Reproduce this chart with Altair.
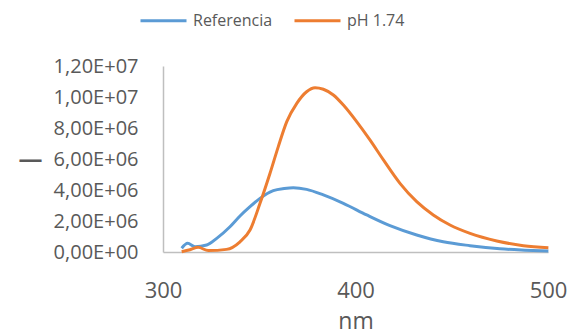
import altair as alt
import pandas as pd

series_names = ["Referencia", "pH 1.74"]
colors = ["#5B9BD5", "#ED7D31"]

ref_nm = [309.7, 312.8, 316.6, 322.7, 327.9, 334.8, 340.0, 345.2, 350.4, 357.3, 363.0, 367.7,
          374.6, 383.3, 393.7, 405.8, 417.9, 431.8, 445.6, 459.5, 475.0, 488.0, 500.2]
ref_val = [0.24e6, 0.56e6, 0.34e6, 0.45e6, 0.88e6, 1.63e6, 2.32e6, 2.92e6, 3.46e6, 3.96e6, 4.10e6, 4.15e6,
           4.04e6, 3.68e6, 3.14e6, 2.39e6, 1.70e6, 1.10e6, 0.66e6, 0.41e6, 0.21e6, 0.12e6, 0.06e6]

ph_nm = [309.7, 314.0, 318.3, 323.5, 333.0, 340.0, 345.2, 350.4, 355.6, 359.9, 364.3, 369.5,
         374.6, 379.0, 383.3, 388.5, 393.7, 400.6, 407.5, 414.5, 423.1, 431.8, 440.4, 449.1,
         459.5, 473.4, 487.2, 500.2]
ph_val = [0.02e6, 0.15e6, 0.30e6, 0.09e6, 0.17e6, 0.66e6, 1.42e6, 3.14e6, 5.08e6, 6.80e6, 8.41e6, 9.59e6,
          10.34e6, 10.60e6, 10.50e6, 10.13e6, 9.48e6, 8.41e6, 7.23e6, 5.94e6, 4.43e6, 3.25e6, 2.39e6, 1.74e6,
          1.20e6, 0.71e6, 0.41e6, 0.28e6]

x_ticks = [300, 400, 500]
y_ticks = [0, 2e6, 4e6, 6e6, 8e6, 10e6, 12e6]
y_labels = ["0,00E+00", "2,00E+06", "4,00E+06", "6,00E+06", "8,00E+06", "1,00E+07", "1,20E+07"]

df = pd.concat([
    pd.DataFrame({"nm": ref_nm, "val": ref_val, "serie": series_names[0], "o": 0}),
    pd.DataFrame({"nm": ph_nm, "val": ph_val, "serie": series_names[1], "o": 1}),
])

label_expr = "[" + ",".join("'" + s + "'" for s in y_labels) + "][round(datum.value/2000000)]"

font = "Open Sans"
grey = "#595959"

chart = alt.Chart(df).mark_line(strokeWidth=3, interpolate="monotone").encode(
    x=alt.X("nm:Q", scale=alt.Scale(domain=[300, 500], nice=False, zero=False),
            axis=alt.Axis(values=x_ticks, title="nm", grid=False, ticks=False, labelFlush=False,
                          domainColor="#BFBFBF", domainWidth=1.5,
                          labelFont=font, labelFontSize=22, labelColor=grey,
                          labelBaseline="alphabetic", labelPadding=45,
                          titleFont=font, titleFontSize=23, titleColor=grey,
                          titleFontWeight="normal", titleBaseline="alphabetic",
                          titleY=76)),
    y=alt.Y("val:Q", scale=alt.Scale(domain=[0, 1.2e7], nice=False),
            axis=alt.Axis(values=y_ticks, labelExpr=label_expr, title="—", grid=False, ticks=False,
                          domainColor="#BFBFBF", domainWidth=1.5,
                          labelFont=font, labelFontSize=20, labelColor=grey, labelPadding=25,
                          titleFont=font, titleFontSize=24, titleColor=grey, titleFontWeight="bold",
                          titleAngle=0, titleAlign="center", titleBaseline="middle",
                          titleX=-133, titleY=93)),
    color=alt.Color("serie:N", scale=alt.Scale(domain=series_names, range=colors),
                    legend=alt.Legend(title=None, orient="none", direction="horizontal",
                                      legendX=-11, legendY=-57,
                                      symbolType="M-2.3,0H2.3", symbolSize=400, symbolStrokeWidth=3,
                                      labelFont=font, labelFontSize=16, labelColor=grey,
                                      labelOffset=18, columnPadding=15, padding=0)),
    order=alt.Order("o:Q"),
).properties(
    width=385, height=186,
    autosize=alt.AutoSizeParams(type="none"),
    padding={"left": 155, "top": 58, "right": 25, "bottom": 84},
).configure_view(stroke=None)

chart.save("out.html", embed_options={"renderer": "svg", "actions": False})
